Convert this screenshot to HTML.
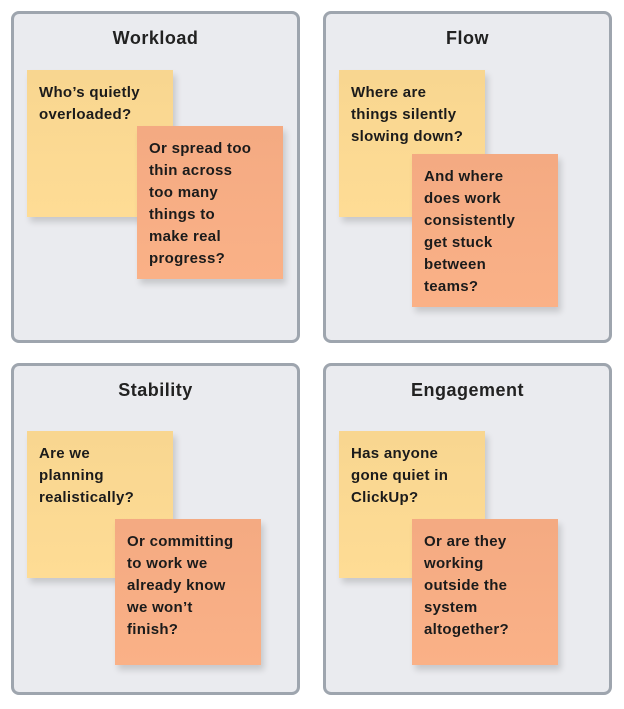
<!DOCTYPE html>
<html><head><meta charset="utf-8"><style>
body{margin:0;width:624px;height:709px;background:#fff;position:relative;font-family:"Liberation Sans",sans-serif;overflow:hidden}
.p{position:absolute;width:283px;height:326px;border:3px solid #9ea5ae;border-radius:8px;background:#eaebef;box-sizing:content-box}
.t{position:absolute;left:0;right:0;top:14px;text-align:center;font-weight:bold;font-size:18px;color:#222;letter-spacing:.5px}
.s{position:absolute;width:146px;box-sizing:border-box;padding:12px 6px 0 12px;font-weight:bold;font-size:15px;line-height:22px;color:#1b1b1b;letter-spacing:.3px;white-space:nowrap;box-shadow:3px 5px 6px rgba(0,0,0,.15)}
.y{background:linear-gradient(#f8d690,#fedc95);height:147px}
.o{background:linear-gradient(#f4aa82,#fab187)}
</style></head><body>
<div class="p" style="left:11px;top:11px"><div class="t">Workload</div></div>
<div class="p" style="left:323px;top:11px"><div class="t">Flow</div></div>
<div class="p" style="left:11px;top:363px"><div class="t">Stability</div></div>
<div class="p" style="left:323px;top:363px"><div class="t">Engagement</div></div>

<div class="s y" style="left:27px;top:70px">Who’s quietly<br>overloaded?</div>
<div class="s o" style="left:137px;top:126px;height:153px">Or spread too<br>thin across<br>too many<br>things to<br>make real<br>progress?</div>

<div class="s y" style="left:339px;top:70px">Where are<br>things silently<br>slowing down?</div>
<div class="s o" style="left:412px;top:154px;height:153px">And where<br>does work<br>consistently<br>get stuck<br>between<br>teams?</div>

<div class="s y" style="left:27px;top:431px">Are we<br>planning<br>realistically?</div>
<div class="s o" style="left:115px;top:519px;height:146px">Or committing<br>to work we<br>already know<br>we won’t<br>finish?</div>

<div class="s y" style="left:339px;top:431px">Has anyone<br>gone quiet in<br>ClickUp?</div>
<div class="s o" style="left:412px;top:519px;height:146px">Or are they<br>working<br>outside the<br>system<br>altogether?</div>
</body></html>
